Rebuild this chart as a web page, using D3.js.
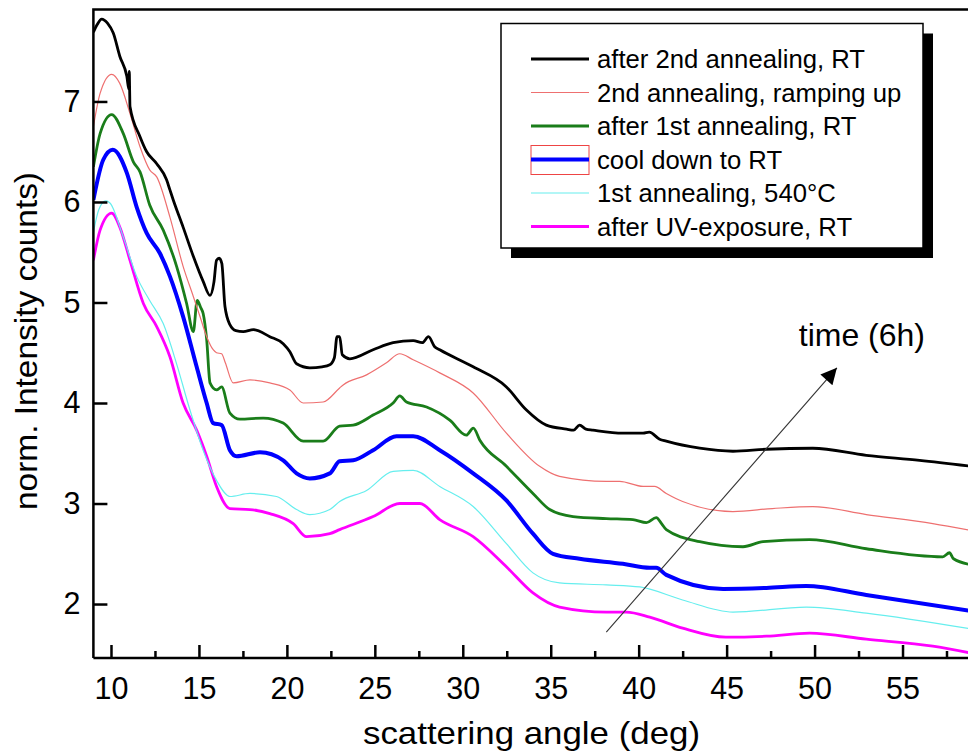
<!DOCTYPE html>
<html>
<head>
<meta charset="utf-8">
<script src="https://cdn.jsdelivr.net/npm/d3@7"></script>
<style>
    body { margin: 0; background: #fff; }
    text { font-family: "Liberation Sans", Arial, sans-serif; fill: #000; }
    .axis path, .axis line { stroke: #000; stroke-width: 2.5; }
    .axis text { font-size: 30.5px; }
</style>
</head>
<body>
<script>
(function(){

    // [scattering angle, norm. intensity]
    var after2ndRT = [[9.0,7.69],[9.2,7.76],[9.47,7.82],[9.8,7.78],[10.13,7.68],[10.5,7.45],[10.9,7.25],[11.02,7.12],[11.04,7.30],[11.06,7.12],[11.08,6.95],
        [11.65,6.65],[12.03,6.50],[12.6,6.38],[13.16,6.22],[13.35,6.12],[13.54,6.02],[14.1,5.75],[14.68,5.46],[15.24,5.21],[15.63,5.07],[15.85,5.20],
        [16.0,5.42],[16.15,5.44],[16.3,5.39],[16.48,4.96],[16.76,4.78],[17.1,4.72],[17.52,4.71],[18.1,4.73],[19.03,4.66],[19.79,4.59],[20.17,4.51],
        [20.55,4.39],[21.3,4.35],[22.0,4.36],[22.44,4.38],[22.7,4.45],[22.85,4.66],[23.0,4.66],[23.15,4.48],[23.58,4.44],[24.9,4.53],[26.04,4.60],
        [27.18,4.62],[27.7,4.60],[28.05,4.66],[28.4,4.56],[28.69,4.53],[30.59,4.36],[32.48,4.16],[33.62,3.93],[34.75,3.78],[35.9,3.74],[36.3,3.73],
        [36.64,3.78],[37.0,3.74],[37.4,3.73],[39.1,3.70],[40.25,3.70],[40.6,3.71],[41.19,3.64],[41.57,3.62],[43.47,3.55],[45.36,3.52],[47.26,3.54],
        [49.9,3.55],[52.94,3.48],[55.97,3.43],[58.95,3.37]];

    var ramping2nd = [[9.0,6.75],[9.38,7.08],[10.04,7.27],[10.5,7.18],[11.08,6.88],[11.65,6.55],[12.2,6.32],[12.6,6.25],[13.35,5.85],[14.1,5.36],
        [14.68,5.06],[15.06,4.86],[15.44,4.66],[15.81,4.53],[16.0,4.50],[16.29,4.49],[16.5,4.40],[16.95,4.20],[17.9,4.23],[19.03,4.20],[20.17,4.13],
        [20.93,4.00],[22.06,4.01],[23.0,4.15],[23.2,4.18],[24.53,4.28],[25.66,4.40],[26.42,4.49],[27.18,4.43],[28.69,4.30],[30.59,4.10],[32.48,3.70],
        [34.37,3.37],[35.5,3.27],[38.16,3.22],[38.92,3.22],[40.25,3.17],[40.9,3.17],[41.57,3.10],[42.5,3.02],[45.36,2.92],[47.6,2.95],[49.9,2.97],
        [52.94,2.89],[56.72,2.80],[58.95,2.73]];

    var after1stRT = [[9.0,6.35],[9.38,6.68],[10.04,6.87],[10.7,6.68],[11.27,6.40],[11.65,6.30],[12.2,5.97],[12.97,5.72],[13.73,5.36],[14.3,4.99],
        [14.68,4.71],[14.9,5.02],[15.1,4.95],[15.24,4.89],[15.44,4.63],[15.63,4.20],[16.0,4.13],[16.29,4.16],[16.76,3.90],[17.33,3.84],[18.65,3.85],
        [19.79,3.80],[20.93,3.62],[22.06,3.62],[23.0,3.77],[23.77,3.78],[24.9,3.88],[26.04,4.00],[26.42,4.07],[26.8,4.01],[27.94,3.96],[29.26,3.83],
        [30.2,3.68],[30.6,3.75],[30.97,3.63],[32.48,3.37],[33.99,3.10],[34.94,2.94],[36.27,2.87],[38.16,2.85],[39.67,2.84],[40.44,2.81],[41.0,2.86],
        [41.3,2.80],[41.57,2.74],[43.47,2.62],[45.93,2.57],[47.07,2.62],[49.72,2.64],[52.94,2.55],[57.29,2.47],[57.67,2.51],[57.9,2.45],[58.95,2.39]];

    var coolDownRT = [[9.0,6.02],[9.56,6.42],[10.1,6.52],[10.9,6.29],[11.46,5.95],[12.03,5.69],[12.78,5.49],[13.35,5.26],[14.1,4.86],[14.87,4.36],
        [15.44,4.00],[15.81,3.80],[16.29,3.78],[16.76,3.53],[17.14,3.47],[18.47,3.51],[19.79,3.43],[20.55,3.30],[21.3,3.25],[22.44,3.30],[23.0,3.42],
        [23.77,3.43],[24.9,3.53],[26.23,3.67],[27.18,3.67],[28.69,3.53],[30.59,3.30],[32.48,3.03],[33.99,2.70],[35.13,2.50],[36.64,2.45],[39.1,2.40],
        [40.63,2.36],[41.0,2.36],[41.57,2.29],[44.8,2.15],[47.26,2.16],[49.53,2.18],[52.94,2.09],[58.95,1.93]];

    var annealing540 = [[9.0,5.70],[9.3,5.92],[9.7,6.01],[9.94,5.99],[10.7,5.65],[11.46,5.26],[12.2,5.02],[12.97,4.79],[13.73,4.39],[14.49,3.93],
        [15.24,3.53],[16.0,3.23],[16.76,3.07],[17.9,3.10],[19.41,3.07],[20.55,2.94],[21.3,2.89],[22.44,2.94],[23.0,3.02],[24.53,3.13],[26.04,3.32],
        [27.18,3.33],[28.69,3.17],[30.59,2.97],[32.48,2.60],[33.99,2.31],[35.5,2.21],[38.16,2.19],[40.06,2.17],[42.5,2.04],[45.36,1.92],[49.53,1.97],
        [52.94,1.91],[58.95,1.75]];

    var afterUV = [[9.0,5.42],[9.38,5.72],[10.04,5.89],[10.5,5.75],[11.08,5.42],[11.84,4.99],[12.6,4.76],[13.35,4.46],[14.1,4.00],[14.87,3.73],
        [15.44,3.47],[16.0,3.17],[16.76,2.95],[17.9,2.94],[19.03,2.90],[20.36,2.80],[21.12,2.67],[22.44,2.70],[23.0,2.74],[24.9,2.87],[26.42,3.00],
        [27.56,3.00],[28.69,2.84],[30.59,2.67],[32.48,2.37],[33.99,2.11],[35.5,1.97],[38.16,1.92],[39.3,1.92],[40.63,1.87],[42.5,1.76],[44.96,1.67],
        [47.26,1.68],[49.72,1.71],[52.94,1.65],[56.72,1.58],[58.95,1.51]];

    var seriesNames = ["after 2nd annealing, RT", "2nd annealing, ramping up", "after 1st annealing, RT",
                       "cool down to RT", "1st annealing, 540°C", "after UV-exposure, RT"];
    var seriesData = [after2ndRT, ramping2nd, after1stRT, coolDownRT, annealing540, afterUV];
    var seriesColors = ["#000000", "#ee7070", "#1a7d1a", "#0000ff", "#66eeee", "#ff00ff"];
    var seriesWidths = [2.8, 1.2, 2.8, 4, 1.2, 2.8];

    var xMajorTicks = [10, 15, 20, 25, 30, 35, 40, 45, 50, 55];
    var xMinorTicks = [12.5, 17.5, 22.5, 27.5, 32.5, 37.5, 42.5, 47.5, 52.5, 57.5];
    var yTicks = [2, 3, 4, 5, 6, 7];

    // arrow annotation in data units: [start, tip]
    var timeArrow = [[38.16, 1.72], [51.27, 4.35]];
    var timeLabel = { text: "time (6h)", x: 49.1, y: 4.57 };

    var width = 968,
        height = 756,
        left = 93.4,
        right = 972,
        top = 9.5,
        bottom = 658;

    var svg = d3.select("body")
        .append("svg")
        .attr("width", width)
        .attr("height", height);

    var x = d3.scaleLinear()
        .domain([9, 58.95])
        .range([left, right]);

    var y = d3.scaleLinear()
        .domain([1.463, 7.915])
        .range([bottom, top]);

    svg.append("clipPath")
        .attr("id", "plotClip")
        .append("rect")
        .attr("x", left)
        .attr("y", top)
        .attr("width", right - left)
        .attr("height", bottom - top);

    var line = d3.line()
        .curve(d3.curveMonotoneX)
        .x(function(d) { return x(d[0]); })
        .y(function(d) { return y(d[1]); });

    // draw from bottom curve up so the black one sits on top
    svg.append("g")
        .attr("clip-path", "url(#plotClip)")
        .selectAll(".curve")
        .data(d3.range(seriesData.length).reverse())
        .enter()
        .append("path")
        .attr("class", "curve")
        .attr("d", function(i) { return line(seriesData[i]); })
        .attr("fill", "none")
        .attr("stroke", function(i) { return seriesColors[i]; })
        .attr("stroke-width", function(i) { return seriesWidths[i]; })
        .attr("stroke-linejoin", "round");

    // frame: top and left border, bottom is the x axis
    svg.append("path")
        .attr("d", "M" + right + "," + top + "H" + left + "V" + bottom)
        .attr("fill", "none")
        .attr("stroke", "#000")
        .attr("stroke-width", 2.5);

    var xAxis = d3.axisBottom(x)
        .tickValues(xMajorTicks)
        .tickSizeInner(-13)
        .tickSizeOuter(0)
        .tickPadding(19);

    var xAxisG = svg.append("g")
        .attr("class", "axis")
        .attr("transform", "translate(0," + bottom + ")")
        .call(xAxis);
    xAxisG.select(".domain").attr("d", "M" + left + ",0H" + right);

    svg.append("g")
        .attr("class", "axis")
        .attr("transform", "translate(0," + bottom + ")")
        .call(d3.axisBottom(x).tickValues(xMinorTicks).tickSizeInner(-7).tickSizeOuter(0).tickFormat(""))
        .select(".domain").remove();

    var yAxis = d3.axisLeft(y)
        .tickValues(yTicks)
        .tickFormat(d3.format("d"))
        .tickSizeInner(-14)
        .tickSizeOuter(0)
        .tickPadding(13);

    var yAxisG = svg.append("g")
        .attr("class", "axis")
        .attr("transform", "translate(" + left + ",0)")
        .call(yAxis);
    yAxisG.select(".domain").remove();

    svg.append("text")
        .attr("x", (363 + 700) / 2)
        .attr("y", 744)
        .attr("text-anchor", "middle")
        .style("font-size", "32px")
        .attr("textLength", 337)
        .attr("lengthAdjust", "spacingAndGlyphs")
        .text("scattering angle (deg)");

    svg.append("text")
        .attr("transform", "translate(37," + 341 + ") rotate(-90)")
        .attr("text-anchor", "middle")
        .style("font-size", "31px")
        .attr("textLength", 338)
        .attr("lengthAdjust", "spacingAndGlyphs")
        .text("norm. Intensity counts)");

    // time arrow
    var defs = svg.append("defs");
    defs.append("marker")
        .attr("id", "arrowHead")
        .attr("viewBox", "0 0 10 10")
        .attr("refX", 10)
        .attr("refY", 5)
        .attr("markerUnits", "userSpaceOnUse")
        .attr("markerWidth", 20)
        .attr("markerHeight", 16)
        .attr("orient", "auto")
        .append("path")
        .attr("d", "M0,0L10,5L0,10Z")
        .attr("fill", "#000");

    svg.append("line")
        .attr("x1", x(timeArrow[0][0]))
        .attr("y1", y(timeArrow[0][1]))
        .attr("x2", x(timeArrow[1][0]))
        .attr("y2", y(timeArrow[1][1]))
        .attr("stroke", "#333")
        .attr("stroke-width", 1.1)
        .attr("marker-end", "url(#arrowHead)");

    svg.append("text")
        .attr("x", x(timeLabel.x))
        .attr("y", y(timeLabel.y))
        .style("font-size", "32px")
        .text(timeLabel.text);

    // legend with drop shadow
    var legendX = 501, legendY = 23.5, legendW = 422, legendH = 224.5,
        rowStart = 59, rowStep = 33.5;

    svg.append("rect")
        .attr("x", legendX + 10)
        .attr("y", legendY + 10)
        .attr("width", legendW)
        .attr("height", legendH)
        .attr("fill", "#000");

    svg.append("rect")
        .attr("x", legendX)
        .attr("y", legendY)
        .attr("width", legendW)
        .attr("height", legendH)
        .attr("fill", "#fff")
        .attr("stroke", "#000")
        .attr("stroke-width", 1.5);

    var rows = svg.selectAll(".legendRow")
        .data(seriesNames)
        .enter()
        .append("g")
        .attr("class", "legendRow")
        .attr("transform", function(d, i) {
            return "translate(0," + (rowStart + i * rowStep) + ")";
        });

    rows.filter(function(d, i) { return i === 3; })
        .append("rect")
        .attr("x", 531)
        .attr("y", -14)
        .attr("width", 58)
        .attr("height", 29)
        .attr("fill", "none")
        .attr("stroke", "#ee4444")
        .attr("stroke-width", 1);

    rows.append("line")
        .attr("x1", 531)
        .attr("x2", 589)
        .attr("stroke", function(d, i) { return seriesColors[i]; })
        .attr("stroke-width", function(d, i) { return seriesWidths[i]; });

    rows.append("text")
        .attr("x", 597)
        .attr("y", 9)
        .style("font-size", "25.7px")
        .text(function(d) { return d; });

})();
</script>
</body>
</html>
